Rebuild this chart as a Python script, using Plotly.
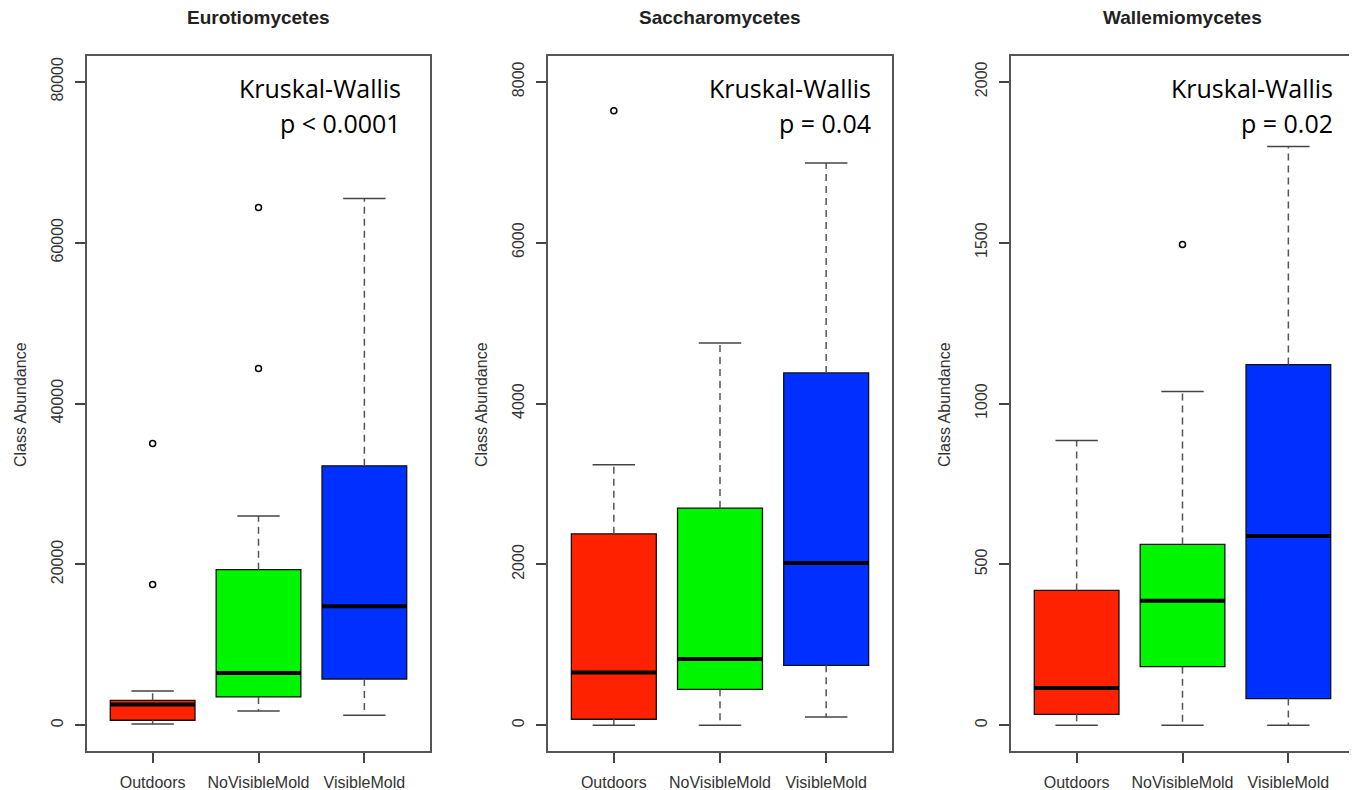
import plotly.graph_objects as go

# page is rendered with an 8px body margin; figure coordinates are page - 8
OFF = 8
W, H = 1357 - OFF, 790 - OFF

categories = ["Outdoors", "NoVisibleMold", "VisibleMold"]
titles = ["Eurotiomycetes", "Saccharomycetes", "Wallemiomycetes"]
pvalues = ["p < 0.0001", "p = 0.04", "p = 0.02"]

# Eurotiomycetes
euro_q1 = [620, 3520, 5750]
euro_med = [2570, 6500, 14780]
euro_q3 = [3100, 19340, 32250]
euro_lo = [150, 1780, 1240]
euro_hi = [4260, 26000, 65490]
euro_out_x = [0, 0, 1, 1]
euro_out_y = [35020, 17510, 64370, 44340]

# Saccharomycetes
sacc_q1 = [75, 447, 745]
sacc_med = [655, 823, 2016]
sacc_q3 = [2380, 2700, 4380]
sacc_lo = [0, 0, 103]
sacc_hi = [3240, 4753, 6990]
sacc_out_x = [0]
sacc_out_y = [7640]

# Wallemiomycetes
wall_q1 = [34, 182, 83]
wall_med = [116, 387, 588]
wall_q3 = [419, 562, 1121]
wall_lo = [0, 0, 0]
wall_hi = [885, 1037, 1799]
wall_out_x = [1]
wall_out_y = [1494]

y_ticks = [
    [0, 20000, 40000, 60000, 80000],
    [0, 2000, 4000, 6000, 8000],
    [0, 500, 1000, 1500, 2000],
]
y_max = [80000, 8000, 2000]

panels = [
    (euro_q1, euro_med, euro_q3, euro_lo, euro_hi, euro_out_x, euro_out_y),
    (sacc_q1, sacc_med, sacc_q3, sacc_lo, sacc_hi, sacc_out_x, sacc_out_y),
    (wall_q1, wall_med, wall_q3, wall_lo, wall_hi, wall_out_x, wall_out_y),
]

colors = ["#FF2200", "#00F500", "#0030FF"]
BOXW = 0.8
STAPLE = 0.2
FONT = "Liberation Sans, Arial, sans-serif"

# plot-region pixel boxes (page coordinates)
px_left = [87, 548, 1011]
px_right = [430, 892, 1354]
px_top, px_bottom = 56, 751
kw_right_inset = [27, 19, 19]


def fx(p):
    return (p - OFF) / W


def fy(p):
    return 1 - (p - OFF) / H


fig = go.Figure()
layout = dict(
    width=W, height=H,
    margin=dict(l=0, r=0, t=0, b=0),
    paper_bgcolor="white", plot_bgcolor="white",
    showlegend=False,
    annotations=[],
)

for i, (q1, med, q3, lo, hi, ox, oy) in enumerate(panels):
    xa = "x" if i == 0 else f"x{i+1}"
    ya = "y" if i == 0 else f"y{i+1}"
    pos = [k + 1 for k in range(len(categories))]
    # boxes
    for k in range(len(categories)):
        fig.add_trace(go.Box(
            x=[pos[k]], q1=[q1[k]], median=[med[k]], q3=[q3[k]],
            lowerfence=[q1[k]], upperfence=[q3[k]],
            width=BOXW, whiskerwidth=0,
            fillcolor=colors[k], line=dict(color="#111111", width=1.3),
            xaxis=xa, yaxis=ya, hoverinfo="skip",
        ))
    # whiskers (dashed)
    wx, wy = [], []
    for k in range(len(categories)):
        wx += [pos[k], pos[k], None, pos[k], pos[k], None]
        wy += [q3[k], hi[k], None, q1[k], lo[k], None]
    fig.add_trace(go.Scatter(x=wx, y=wy, mode="lines",
                             line=dict(color="#555555", width=1.5, dash="7px,5px"),
                             xaxis=xa, yaxis=ya, hoverinfo="skip"))
    # staples
    sx, sy = [], []
    for k in range(len(categories)):
        sx += [pos[k] - STAPLE, pos[k] + STAPLE, None, pos[k] - STAPLE, pos[k] + STAPLE, None]
        sy += [hi[k], hi[k], None, lo[k], lo[k], None]
    fig.add_trace(go.Scatter(x=sx, y=sy, mode="lines",
                             line=dict(color="#444444", width=1.5),
                             xaxis=xa, yaxis=ya, hoverinfo="skip"))
    # medians
    mx, my = [], []
    for k in range(len(categories)):
        mx += [pos[k] - BOXW / 2, pos[k] + BOXW / 2, None]
        my += [med[k], med[k], None]
    fig.add_trace(go.Scatter(x=mx, y=my, mode="lines",
                             line=dict(color="black", width=4),
                             xaxis=xa, yaxis=ya, hoverinfo="skip"))
    # outliers
    fig.add_trace(go.Scatter(x=[pos[j] for j in ox], y=oy, mode="markers",
                             marker=dict(symbol="circle-open", size=6,
                                         color="black", line=dict(width=1.5)),
                             xaxis=xa, yaxis=ya, hoverinfo="skip"))

    ym = y_max[i]
    pad = 0.04 * ym
    dom_x = [fx(px_left[i]), fx(px_right[i])]
    dom_y = [fy(px_bottom), fy(px_top)]
    xkey = "xaxis" if i == 0 else f"xaxis{i+1}"
    ykey = "yaxis" if i == 0 else f"yaxis{i+1}"
    layout[xkey] = dict(
        domain=dom_x, anchor=ya, range=[0.38, 3.62],
        tickvals=pos, ticktext=categories,
        ticks="outside", ticklen=10, tickwidth=1.5, tickcolor="#444444",
        showline=True, mirror=True, linecolor="#555555", linewidth=1.5,
        showgrid=False, zeroline=False, ticklabelstandoff=6,
        tickfont=dict(family=FONT, size=16, color="#333333"),
        fixedrange=True,
    )
    layout[ykey] = dict(
        domain=dom_y, anchor=xa, range=[-pad, ym + pad],
        tickvals=y_ticks[i], ticktext=[str(v) for v in y_ticks[i]],
        tickangle=-90,
        ticks="outside", ticklen=10, tickwidth=1.5, tickcolor="#444444",
        showline=True, mirror=True, linecolor="#555555", linewidth=1.5,
        showgrid=False, zeroline=False, ticklabelstandoff=6,
        tickfont=dict(family=FONT, size=16, color="#333333"),
        fixedrange=True,
    )
    xd = "x domain" if i == 0 else f"x{i+1} domain"
    pw = px_right[i] - px_left[i]
    layout["annotations"] += [
        dict(text=f"<b>{titles[i]}</b>", xref=xd, yref="paper",
             x=0.5, y=fy(17), xanchor="center", yanchor="middle",
             showarrow=False, font=dict(family=FONT, size=19, color="#222222")),
        dict(text="Class Abundance", xref=xd, yref="paper",
             x=-67 / pw, y=fy(405), xanchor="center", yanchor="middle",
             textangle=-90, showarrow=False,
             font=dict(family=FONT, size=16, color="#333333")),
        dict(text="Kruskal-Wallis", xref=xd, yref="paper",
             x=1 - kw_right_inset[i] / pw, y=fy(88),
             xanchor="right", yanchor="middle", showarrow=False,
             font=dict(family="Open Sans, sans-serif", size=25, color="black")),
        dict(text=pvalues[i], xref=xd, yref="paper",
             x=1 - kw_right_inset[i] / pw, y=fy(123),
             xanchor="right", yanchor="middle", showarrow=False,
             font=dict(family="Open Sans, sans-serif", size=25, color="black")),
    ]

fig.update_layout(**layout)
fig.write_html("out.html")
